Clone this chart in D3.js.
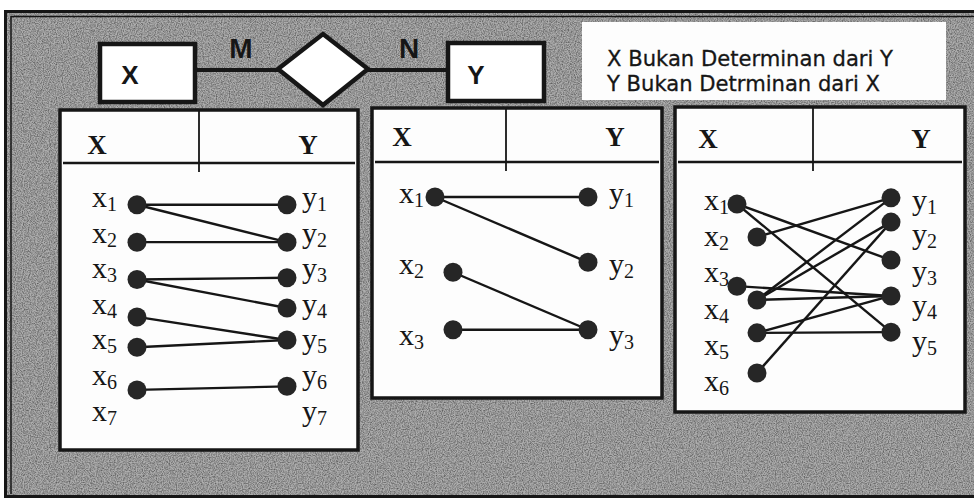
<!DOCTYPE html>
<html>
<head>
<meta charset="utf-8">
<script src="https://cdn.jsdelivr.net/npm/d3@7"></script>
<style>
  html, body { margin: 0; padding: 0; background: #fff; }
  svg { display: block; }
</style>
</head>
<body>
<div id="chart"></div>
<script>
// ---- data ----
const erEntities = ["X", "Y"];
const erCardinality = ["M", "N"];
const notes = ["X Bukan Determinan dari Y", "Y Bukan Detrminan dari X"];
const headers = ["X", "Y"];

// panel 1: rows
const p1LeftLabels = ["x1", "x2", "x3", "x4", "x5", "x6", "x7"];
const p1RightLabels = ["y1", "y2", "y3", "y4", "y5", "y6", "y7"];
const p1LeftLabelRows = [0, 1, 2, 3, 4, 5, 6];
const p1RightLabelRows = [0, 1, 2, 3, 4, 5, 6];
const p1LeftDots = [0.05, 1.1, 2.15, 3.2, 4.05, 5.25];
const p1LeftCols = [0, 0, 0, 0, 0, 0];
const p1RightDots = [0.05, 1.1, 2.1, 2.95, 3.85, 5.15];
const p1Edges = [[1, 1], [1, 2], [2, 2], [3, 3], [3, 4], [4, 5], [5, 5], [6, 6]];

// panel 2
const p2LeftLabels = ["x1", "x2", "x3"];
const p2RightLabels = ["y1", "y2", "y3"];
const p2LeftLabelRows = [0, 1, 2];
const p2RightLabelRows = [0, 1, 2];
const p2LeftDots = [0, 1.06, 1.87];
const p2LeftCols = [0, 1, 1];
const p2RightDots = [0, 0.92, 1.87];
const p2Edges = [[1, 1], [1, 2], [2, 3], [3, 3]];

// panel 3
const p3LeftLabels = ["x1", "x2", "x3", "x4", "x5", "x6"];
const p3RightLabels = ["y1", "y2", "y3", "y4", "y5"];
const p3LeftLabelRows = [0, 1, 2, 3, 4, 5];
const p3RightLabelRows = [0, 0.95, 1.95, 2.9, 3.9];
const p3LeftDots = [0, 0.91, 2.27, 2.65, 3.56, 4.67];
const p3LeftCols = [0, 1, 0, 1, 1, 1];
const p3RightDots = [-0.17, 0.5, 1.55, 2.54, 3.54];
const p3Edges = [[1, 3], [1, 5], [2, 1], [3, 4], [4, 1], [4, 2], [4, 4], [5, 4], [5, 5], [6, 2]];

// ---- layout ----
const width = 974, height = 500;
const ink = "#161616";

const panels = [
  { box: [60, 110, 358, 450], headY: 163, divX: 199, hx: [97, 308], hBase: 154,
    rowY: [203, 35.6], labDy: 4, leftX: [137, 155], rightX: 287, labL: 92, labR: 302,
    leftLabels: p1LeftLabels, rightLabels: p1RightLabels, leftLabelRows: p1LeftLabelRows,
    rightLabelRows: p1RightLabelRows, leftDots: p1LeftDots, leftCols: p1LeftCols,
    rightDots: p1RightDots, edges: p1Edges },
  { box: [372, 108, 662, 398], headY: 162, divX: 506, hx: [402, 615], hBase: 146,
    rowY: [197, 71], labDy: 6, leftX: [435, 453], rightX: 588, labL: 399, labR: 609,
    leftLabels: p2LeftLabels, rightLabels: p2RightLabels, leftLabelRows: p2LeftLabelRows,
    rightLabelRows: p2RightLabelRows, leftDots: p2LeftDots, leftCols: p2LeftCols,
    rightDots: p2RightDots, edges: p2Edges },
  { box: [675, 107, 965, 412], headY: 162, divX: 813, hx: [708, 921], hBase: 148,
    rowY: [204, 36.2], labDy: 6, leftX: [737, 757], rightX: 891, labL: 704, labR: 912,
    leftLabels: p3LeftLabels, rightLabels: p3RightLabels, leftLabelRows: p3LeftLabelRows,
    rightLabelRows: p3RightLabelRows, leftDots: p3LeftDots, leftCols: p3LeftCols,
    rightDots: p3RightDots, edges: p3Edges }
];

const svg = d3.select("#chart").append("svg")
    .attr("width", width)
    .attr("height", height);

// scanned-paper noise
const defs = svg.append("defs");
const noise = defs.append("filter").attr("id", "noise")
    .attr("x", 0).attr("y", 0).attr("width", "100%").attr("height", "100%");
noise.append("feTurbulence")
    .attr("type", "fractalNoise")
    .attr("baseFrequency", 0.85)
    .attr("numOctaves", 2)
    .attr("seed", 3);
noise.append("feColorMatrix")
    .attr("type", "matrix")
    .attr("values", "0 0 0 0 0  0 0 0 0 0  0 0 0 0 0  1.6 0 0 0 -0.55");
noise.append("feComposite").attr("in2", "SourceGraphic").attr("operator", "in");

// background + frame
svg.append("rect")
    .attr("x", 5).attr("y", 11).attr("width", width).attr("height", 486)
    .attr("fill", "#adadad");
svg.append("rect")
    .attr("x", 5).attr("y", 11).attr("width", width).attr("height", 486)
    .attr("fill", "#000")
    .attr("filter", "url(#noise)")
    .attr("opacity", 0.55);
svg.append("rect")
    .attr("x", 5.5).attr("y", 11.5).attr("width", width).attr("height", 485)
    .attr("fill", "none").attr("stroke", ink).attr("stroke-width", 3);
svg.append("path")
    .attr("d", `M11,${494} V16.5 H${width}`)
    .attr("fill", "none").attr("stroke", ink).attr("stroke-width", 1.5);

// ---- ER diagram ----
const er = svg.append("g").attr("class", "er");
const erY = 70;
const entityBoxes = [[100, 44, 95, 58], [448, 43, 96, 58]];
const entityTextX = [130, 476];

er.append("line").attr("x1", 195).attr("x2", 448).attr("y1", erY).attr("y2", erY)
    .attr("stroke", ink).attr("stroke-width", 4);

er.selectAll("rect.entity")
  .data(erEntities)
  .join("rect")
    .attr("class", "entity")
    .attr("x", (d, i) => entityBoxes[i][0])
    .attr("y", (d, i) => entityBoxes[i][1])
    .attr("width", (d, i) => entityBoxes[i][2])
    .attr("height", (d, i) => entityBoxes[i][3])
    .attr("fill", "#fff").attr("stroke", ink).attr("stroke-width", 4.5);

er.selectAll("text.entity")
  .data(erEntities)
  .join("text")
    .attr("class", "entity")
    .attr("x", (d, i) => entityTextX[i])
    .attr("y", 84)
    .attr("text-anchor", "middle")
    .attr("font-family", "'Liberation Sans', Arial, sans-serif")
    .attr("font-weight", "bold")
    .attr("font-size", 26)
    .attr("fill", ink)
    .text(d => d);

er.append("polygon")
    .attr("points", "278,69 323,34 368,69 323,105")
    .attr("fill", "#fff").attr("stroke", ink).attr("stroke-width", 4.5)
    .attr("stroke-linejoin", "miter");

er.selectAll("text.card")
  .data(erCardinality)
  .join("text")
    .attr("class", "card")
    .attr("x", (d, i) => [241, 409][i])
    .attr("y", 58)
    .attr("text-anchor", "middle")
    .attr("font-family", "'Liberation Sans', Arial, sans-serif")
    .attr("font-weight", "bold")
    .attr("font-size", 28)
    .attr("fill", ink)
    .text(d => d);

// note box
svg.append("rect")
    .attr("x", 582).attr("y", 22).attr("width", 364).attr("height", 78)
    .attr("fill", "#fdfdfd");
svg.selectAll("text.note")
  .data(notes)
  .join("text")
    .attr("class", "note")
    .attr("x", 607)
    .attr("y", (d, i) => 66 + i * 25)
    .attr("font-family", "'DejaVu Sans', Verdana, sans-serif")
    .attr("font-size", 21)
    .attr("fill", ink)
    .attr("stroke", ink)
    .attr("stroke-width", 0.3)
    .attr("textLength", (d, i) => [286, 273][i])
    .attr("lengthAdjust", "spacingAndGlyphs")
    .text(d => d);

// ---- panels ----
function subLabel(sel, anchorX, y, label) {
  const t = sel.append("text")
      .attr("x", anchorX).attr("y", y)
      .attr("font-family", "'Liberation Serif', 'Times New Roman', serif")
      .attr("font-size", 30)
      .attr("fill", ink);
  t.append("tspan").text(label[0]);
  t.append("tspan").attr("font-size", 20).attr("dy", 4).text(label.slice(1));
}

panels.forEach(p => {
  const g = svg.append("g");
  const [x0, y0, x1, y1] = p.box;

  const y = d3.scaleLinear().domain([0, 1]).range([p.rowY[0], p.rowY[0] + p.rowY[1]]);
  const xl = d3.scaleLinear().domain([0, 1]).range(p.leftX);

  g.append("rect")
      .attr("x", x0).attr("y", y0).attr("width", x1 - x0).attr("height", y1 - y0)
      .attr("fill", "#fdfdfd").attr("stroke", ink).attr("stroke-width", 3.5);
  g.append("line")
      .attr("x1", x0 + 3).attr("x2", x1 - 3).attr("y1", p.headY).attr("y2", p.headY)
      .attr("stroke", ink).attr("stroke-width", 2.4);
  g.append("line")
      .attr("x1", p.divX).attr("x2", p.divX).attr("y1", y0).attr("y2", p.headY + 9)
      .attr("stroke", ink).attr("stroke-width", 1.8);

  g.selectAll("text.head")
    .data(headers)
    .join("text")
      .attr("class", "head")
      .attr("x", (d, i) => p.hx[i])
      .attr("y", p.hBase)
      .attr("text-anchor", "middle")
      .attr("font-family", "'Liberation Serif', 'Times New Roman', serif")
      .attr("font-weight", "bold")
      .attr("font-size", 27)
      .attr("fill", ink)
      .text(d => d);

  const leftNodes = p.leftDots.map((r, i) => ({ x: xl(p.leftCols[i]), y: y(r) }));
  const rightNodes = p.rightDots.map(r => ({ x: p.rightX, y: y(r) }));

  g.selectAll("line.edge")
    .data(p.edges)
    .join("line")
      .attr("class", "edge")
      .attr("x1", d => leftNodes[d[0] - 1].x)
      .attr("y1", d => leftNodes[d[0] - 1].y)
      .attr("x2", d => rightNodes[d[1] - 1].x)
      .attr("y2", d => rightNodes[d[1] - 1].y)
      .attr("stroke", ink).attr("stroke-width", 2.4);

  g.selectAll("circle.node")
    .data(leftNodes.concat(rightNodes))
    .join("circle")
      .attr("class", "node")
      .attr("cx", d => d.x).attr("cy", d => d.y).attr("r", 9.5)
      .attr("fill", "#262626");

  p.leftLabels.forEach((lab, i) => subLabel(g, p.labL, y(p.leftLabelRows[i]) + p.labDy, lab));
  p.rightLabels.forEach((lab, i) => subLabel(g, p.labR, y(p.rightLabelRows[i]) + p.labDy, lab));
});
</script>
</body>
</html>
